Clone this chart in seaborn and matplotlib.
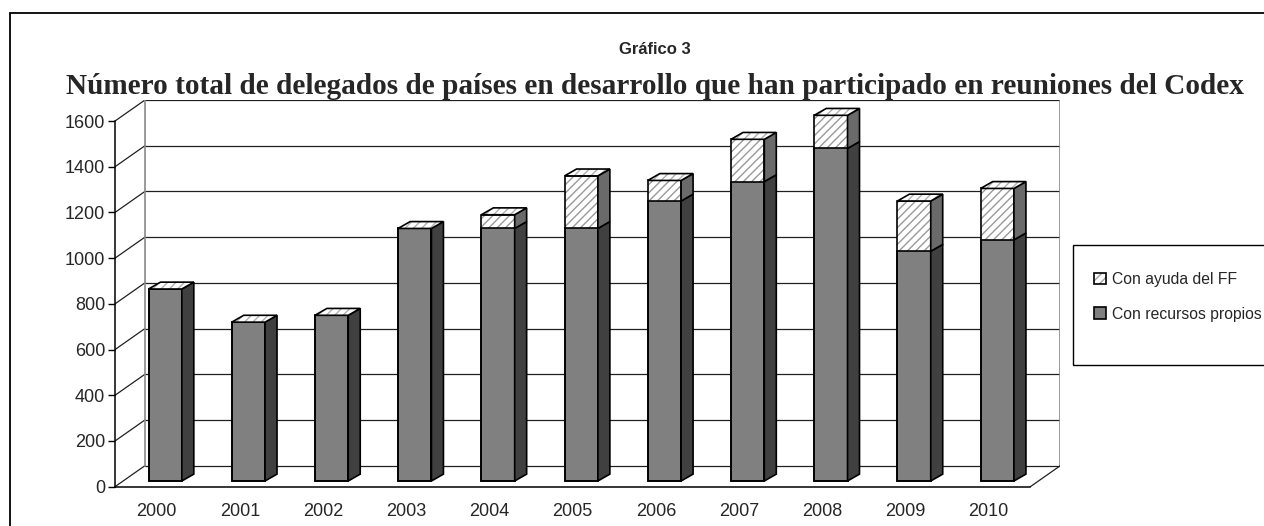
import numpy as np
import pandas as pd
import matplotlib
matplotlib.use("Agg")
import matplotlib.pyplot as plt
from matplotlib.patches import Polygon, Rectangle, Patch
import seaborn as sns

# data
years = ["2000", "2001", "2002", "2003", "2004", "2005",
         "2006", "2007", "2008", "2009", "2010"]
propios = [840, 695, 725, 1105, 1105, 1105, 1225, 1310, 1455, 1005, 1055]
ayuda_ff = [0, 0, 0, 0, 60, 230, 90, 185, 145, 220, 225]
y_ticks = [0, 200, 400, 600, 800, 1000, 1200, 1400, 1600]

label_ff = "Con ayuda del FF"
label_propios = "Con recursos propios"
title_1 = "Gráfico 3"
title_2 = "Número total de delegados de países en desarrollo que han participado en reuniones del Codex"

df = pd.DataFrame({"year": years, "propios": propios, "ff": ayuda_ff})
df["total"] = df["propios"] + df["ff"]

sns.set_style("white")
plt.rcParams["font.family"] = ["Liberation Sans", "DejaVu Sans"]
plt.rcParams["hatch.linewidth"] = 1.0

# fake 3d geometry (in data units of the bar plane)
BAR_W = 0.4
FRONT_DX, FRONT_DY = -0.103, -25      # front plane (axes) relative to bars
BACK_DX, BACK_DY = 0.257, 67          # back wall relative to bars
DEPTH_DX, DEPTH_DY = 0.144, 30        # depth of each bar
n = len(years)

W, H = 1264, 526
fig = plt.figure(figsize=(W / 100, H / 100), dpi=100)
ax = fig.add_axes([115 / W, (H - 486.7) / H, 945.3 / W, 386.7 / H])

hatch_col = "#9a9a9a"
# hatched total bars, then own-resources bars, then outline
sns.barplot(data=df, x="year", y="total", color="white", saturation=1,
            hatch="////", edgecolor=hatch_col, linewidth=0, width=BAR_W,
            errorbar=None, ax=ax, zorder=3)
sns.barplot(data=df, x="year", y="propios", color="#808080", saturation=1,
            edgecolor="black", linewidth=1.2, width=BAR_W,
            errorbar=None, ax=ax, zorder=3)
sns.barplot(data=df, x="year", y="total", fill=False, color="black",
            linewidth=1.2, width=BAR_W, errorbar=None, ax=ax, zorder=3)

# side and top faces of each bar
for i, row in df.iterrows():
    xl, xr = i - BAR_W / 2, i + BAR_W / 2
    segs = [(0, row["propios"], "#404040"),
            (row["propios"], row["total"], "#6a6a6a")]
    for y0, y1, col in segs:
        if y1 <= y0:
            continue
        side = [(xr, y0), (xr + DEPTH_DX, y0 + DEPTH_DY),
                (xr + DEPTH_DX, y1 + DEPTH_DY), (xr, y1)]
        ax.add_patch(Polygon(side, closed=True, facecolor=col,
                             edgecolor="black", lw=1.2, zorder=3))
    top_y = row["total"]
    top = [(xl, top_y), (xl + DEPTH_DX, top_y + DEPTH_DY),
           (xr + DEPTH_DX, top_y + DEPTH_DY), (xr, top_y)]
    ax.add_patch(Polygon(top, closed=True, facecolor="white",
                         edgecolor="#b0b0b0", hatch="////", lw=0, zorder=3))
    ax.add_patch(Polygon(top, closed=True, fill=False,
                         edgecolor="black", lw=1.2, zorder=3.1))

# walls and gridlines
x_front_l = -0.5 + FRONT_DX
x_front_r = n - 0.5 + FRONT_DX
x_back_l = -0.5 + BACK_DX
x_back_r = n - 0.5 + BACK_DX
for t in y_ticks:
    ax.plot([x_front_l, x_back_l], [t + FRONT_DY, t + BACK_DY],
            color="#202020", lw=0.9, zorder=1)
    ax.plot([x_back_l, x_back_r], [t + BACK_DY, t + BACK_DY],
            color="#202020", lw=0.9, zorder=1)
for xb in (x_back_l, x_back_r):
    ax.plot([xb, xb], [BACK_DY, y_ticks[-1] + BACK_DY],
            color="#8a8a8a", lw=1.2, zorder=1)
ax.plot([x_front_r, x_back_r], [FRONT_DY, BACK_DY],
        color="#202020", lw=0.9, zorder=1)

ax.set_xlim(x_front_l, x_back_r)
ax.set_ylim(FRONT_DY, y_ticks[-1] + BACK_DY)
ax.set(xlabel="", ylabel="")

for s in ("top", "right"):
    ax.spines[s].set_visible(False)
ax.spines["left"].set_bounds(FRONT_DY, y_ticks[-1] + FRONT_DY)
ax.spines["bottom"].set_bounds(x_front_l, x_front_r)
for s in ("left", "bottom"):
    ax.spines[s].set_color("black")
    ax.spines[s].set_linewidth(1.1)

ax.set_yticks([t + FRONT_DY for t in y_ticks])
ax.set_yticklabels([str(t) for t in y_ticks])
ax.set_xticks([i + FRONT_DX for i in range(n)])
ax.set_xticklabels(years)
ax.set_xticks([i - 0.5 + FRONT_DX for i in range(n + 1)], minor=True)
ax.tick_params(axis="x", which="major", length=0, pad=12, labelsize=13)
ax.tick_params(axis="x", which="minor", length=5, width=1, color="black",
               direction="out")
ax.tick_params(axis="y", length=5, width=1, color="black", pad=2,
               labelsize=13, left=True)

# titles
fig.text(655 / W, (H - 49) / H, title_1, ha="center", va="center",
         fontsize=12, fontweight="bold")
fig.text(655 / W, (H - 94) / H, title_2, ha="center", va="baseline",
         fontsize=21.1, fontweight="bold",
         family=["Liberation Serif", "DejaVu Serif"])

# legend box
fig.add_artist(Rectangle((1073 / W, (H - 365) / H), 210 / W, 120 / H,
                         transform=fig.transFigure, fill=False,
                         edgecolor="black", lw=1.0))
h_ff = (Patch(facecolor="white", edgecolor="#a0a0a0", hatch="////", lw=0),
        Patch(fill=False, edgecolor="black", lw=1.2))
h_pr = Patch(facecolor="#808080", edgecolor="black", lw=1.2)
fig.legend([h_ff, h_pr], [label_ff, label_propios], loc="upper left",
           bbox_to_anchor=(1094 / W, (H - 272) / H), frameon=False,
           borderpad=0, borderaxespad=0, handlelength=0.74,
           handleheight=0.74, handletextpad=0.4, labelspacing=1.25,
           fontsize=11.3)

# outer chart frame (left and top edges visible)
fig.add_artist(Rectangle((10 / W, -0.2), 1.2, (H - 13) / H + 0.2,
                         transform=fig.transFigure, fill=False,
                         edgecolor="black", lw=1.3))

fig.savefig("out.png", dpi=100)
